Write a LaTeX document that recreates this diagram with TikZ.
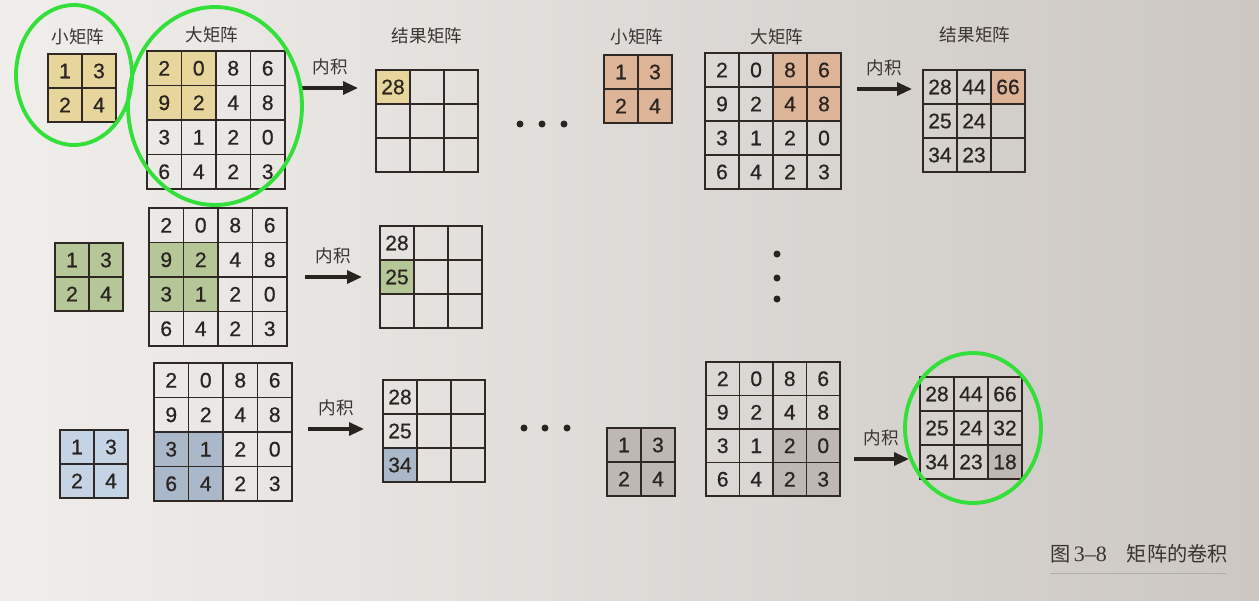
\documentclass[tikz,border=0pt]{standalone}
\usepackage{fontspec}
\setmainfont{Noto Sans CJK SC}
\newfontfamily\numfont{Liberation Sans}
\newfontfamily\capnum{Liberation Serif}
\usepackage{tikz}
\usetikzlibrary{arrows.meta,positioning}
\definecolor{page-left}{HTML}{F0EEEB}
\definecolor{page-right}{HTML}{CCC7C3}
\definecolor{cell-line}{HTML}{2F2824}
\definecolor{ink}{HTML}{2A2421}
\definecolor{lbl-ink}{HTML}{3A3431}
\definecolor{ring-green}{HTML}{33E03A}
\definecolor{fy}{HTML}{E6D69C}
\definecolor{fo}{HTML}{DDB497}
\definecolor{fg}{HTML}{B5C699}
\definecolor{fbl}{HTML}{C4D4E4}
\definecolor{fbd}{HTML}{A9B9CA}
\definecolor{fgr}{HTML}{BFB8B2}

% one grid of cells: name, left, top, columns, cell size (px), value/fill list
\newcommand{\cellgrid}[6]{%
  \foreach \val/\fc [count=\k from 0] in {#6} {
    \pgfmathtruncatemacro\row{\k/#4}
    \pgfmathtruncatemacro\col{mod(\k,#4)}
    \node[cell, minimum size=#5*0.02cm, fill=\fc] (#1-\row-\col)
      at ({#2+#5/2+#5*\col},{#3+#5/2+#5*\row}) {\val};
  }%
}

\tikzset{
  cell/.style={draw=cell-line, line width=1pt, inner sep=0pt, text=ink,
    font=\numfont\fontsize{12}{12}\selectfont\addfontfeature{FakeBold=0.6}},
  lbl/.style={text=lbl-ink, font=\fontsize{10}{12}\selectfont},
  arr/.style={-{Triangle[length=0.3cm,width=0.26cm]}, line width=1.8pt, draw=ink},
  ring/.style={draw=ring-green, line width=2.2pt},
  dot/.style={circle, fill=ink, inner sep=0pt, minimum size=0.14cm},
}

\begin{document}
\begin{tikzpicture}[x=0.02cm, y=-0.02cm]
    \useasboundingbox (0,0) rectangle (1259,600);
    \shade[left color=page-left, right color=page-right] (0,0) rectangle (1259,600);

    % first step: yellow
    \cellgrid{s1}{48}{54}{2}{34}{1/fy,3/fy,2/fy,4/fy}
    \cellgrid{b1}{147}{51}{4}{34.5}{2/fy,0/fy,8/none,6/none,9/fy,2/fy,4/none,8/none,3/none,1/none,2/none,0/none,6/none,4/none,2/none,3/none}
    \cellgrid{r1}{376}{70}{3}{34}{28/fy,/none,/none,/none,/none,/none,/none,/none,/none}
    \node[lbl] (s1-lbl) at (78,37) {小矩阵};
    \node[lbl] (b1-lbl) at (212,35) {大矩阵};
    \node[lbl] (r1-lbl) at (427,36) {结果矩阵};

    % third step: orange
    \cellgrid{s2}{604}{55}{2}{34}{1/fo,3/fo,2/fo,4/fo}
    \cellgrid{b2}{705}{53}{4}{34}{2/none,0/none,8/fo,6/fo,9/none,2/none,4/fo,8/fo,3/none,1/none,2/none,0/none,6/none,4/none,2/none,3/none}
    \cellgrid{r2}{923}{70}{3}{34}{28/none,44/none,66/fo,25/none,24/none,/none,34/none,23/none,/none}
    \node[lbl] (s2-lbl) at (637,37) {小矩阵};
    \node[lbl] (b2-lbl) at (777,37) {大矩阵};
    \node[lbl] (r2-lbl) at (975,35) {结果矩阵};

    % second row: green
    \cellgrid{s3}{55}{243}{2}{34}{1/fg,3/fg,2/fg,4/fg}
    \cellgrid{b3}{149}{208}{4}{34.5}{2/none,0/none,8/none,6/none,9/fg,2/fg,4/none,8/none,3/fg,1/fg,2/none,0/none,6/none,4/none,2/none,3/none}
    \cellgrid{r3}{380}{226}{3}{34}{28/none,/none,/none,25/fg,/none,/none,/none,/none,/none}

    % third row: blue, then the last step in grey
    \cellgrid{s4}{60}{430}{2}{34}{1/fbl,3/fbl,2/fbl,4/fbl}
    \cellgrid{b4}{154}{363}{4}{34.5}{2/none,0/none,8/none,6/none,9/none,2/none,4/none,8/none,3/fbd,1/fbd,2/none,0/none,6/fbd,4/fbd,2/none,3/none}
    \cellgrid{r4}{383}{380}{3}{34}{28/none,/none,/none,25/none,/none,/none,34/fbd,/none,/none}
    \cellgrid{s5}{607}{428}{2}{34}{1/fgr,3/fgr,2/fgr,4/fgr}
    \cellgrid{b5}{706}{362}{4}{33.5}{2/none,0/none,8/none,6/none,9/none,2/none,4/none,8/none,3/none,1/none,2/fgr,0/fgr,6/none,4/none,2/fgr,3/fgr}
    \cellgrid{r5}{920}{377}{3}{34}{28/none,44/none,66/none,25/none,24/none,32/none,34/none,23/none,18/fgr}

    % inner product arrows
    \coordinate (a1-s) at (302,88);  \coordinate (a1-e) at (358,88);
    \coordinate (a2-s) at (857,89);  \coordinate (a2-e) at (912,89);
    \coordinate (a3-s) at (305,277); \coordinate (a3-e) at (362,277);
    \coordinate (a4-s) at (308,429); \coordinate (a4-e) at (364,429);
    \coordinate (a5-s) at (854,459); \coordinate (a5-e) at (909,459);
    \foreach \a in {a1,a2,a3,a4,a5}
        \draw[arr] (\a-s) -- node[lbl, above=3pt] (\a-lbl) {内积} (\a-e);

    % ellipsis dots
    \node[dot] (d1) at (520,124) {}; \node[dot] (d2) at (542,124) {}; \node[dot] (d3) at (564,124) {};
    \node[dot] (d4) at (524,428) {}; \node[dot] (d5) at (545,428) {}; \node[dot] (d6) at (567,428) {};
    \node[dot] (d7) at (777,254) {}; \node[dot] (d8) at (777,278) {}; \node[dot] (d9) at (777,299) {};

    % green marks
    \draw[ring] (74,75) ellipse [x radius=1.16cm, y radius=1.40cm];
    \draw[ring] (215,106) ellipse [x radius=1.74cm, y radius=1.98cm];
    \draw[ring] (973,428) ellipse [x radius=1.36cm, y radius=1.50cm];

    % caption
    \node[anchor=west, inner sep=0pt, text=lbl-ink, font=\fontsize{11.5}{12}\selectfont] (cap) at (1050,554)
        {图\,{\capnum\fontsize{12.5}{12}\selectfont 3–8}\hspace{0.4cm}矩阵的卷积};
    \coordinate (rule-l) at (1050,573); \coordinate (rule-r) at (1226,573);
    \draw[draw=lbl-ink!40, line width=0.5pt] (rule-l) -- (rule-r);
\end{tikzpicture}
\end{document}
